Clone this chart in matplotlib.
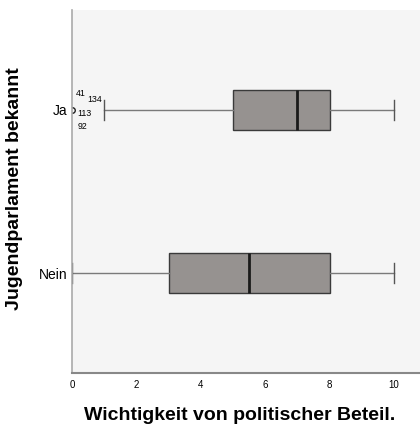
import matplotlib
matplotlib.use("Agg")
import matplotlib.pyplot as plt

groups = ["Nein", "Ja"]
whislo = [0, 1]
q1 = [3, 5]
med = [5.5, 7]
q3 = [8, 8]
whishi = [10, 10]
fliers = [[], [0]]
flier_ids = ["41", "134", "113", "92"]
xticks = [0, 2, 4, 6, 8, 10]

plt.rcParams['font.family'] = ['Liberation Sans', 'DejaVu Sans']

fig = plt.figure(figsize=(4.2, 4.34), dpi=100)
ax = fig.add_axes([72/420, 61/434, 1 - 72/420, 363/434])
ax.set_facecolor('#f5f5f5')

stats = []
for i, g in enumerate(groups):
    stats.append(dict(label=g, whislo=whislo[i], q1=q1[i], med=med[i],
                      q3=q3[i], whishi=whishi[i], fliers=fliers[i]))

ax.bxp(stats, positions=[1, 2], vert=False, widths=0.25, patch_artist=True,
       boxprops=dict(facecolor='#969290', edgecolor='#3a3a3a', linewidth=1),
       medianprops=dict(color='#1a1a1a', linewidth=2),
       whiskerprops=dict(color='#7a7a7a', linewidth=1),
       capprops=dict(color='#555555', linewidth=1),
       capwidths=0.125,
       flierprops=dict(marker='o', markersize=4, markerfacecolor='none',
                       markeredgecolor='#222222', clip_on=True))

# outlier case labels
ax.text(0.12, 2.098, flier_ids[0], fontsize=6.3, ha='left', va='center')
ax.text(0.47, 2.067, flier_ids[1], fontsize=6.3, ha='left', va='center')
ax.text(0.16, 1.98, flier_ids[2], fontsize=6.3, ha='left', va='center')
ax.text(0.18, 1.896, flier_ids[3], fontsize=6.3, ha='left', va='center')

ax.set_xlim(0, 10.81)
ax.set_ylim(0.387, 2.613)
ax.set_xticks(xticks)
ax.set_xticklabels([str(t) for t in xticks], fontsize=7)
ax.set_yticks([1, 2])
ax.set_yticklabels(groups, fontsize=10)
ax.tick_params(axis='both', length=0)
ax.tick_params(axis='x', pad=5)
ax.tick_params(axis='y', pad=3)

for s in ['top', 'right']:
    ax.spines[s].set_visible(False)
ax.spines['left'].set_color('#aaaaaa')
ax.spines['left'].set_linewidth(1.2)
ax.spines['bottom'].set_color('#888888')
ax.spines['bottom'].set_linewidth(1.5)

fig.text(15/420, 1 - 189/434, "Jugendparlament bekannt", rotation=90,
         fontsize=14, fontweight='bold', ha='center', va='center')
fig.text(240/420, 1 - 415/434, "Wichtigkeit von politischer Beteil.",
         fontsize=14, fontweight='bold', ha='center', va='center')

fig.savefig("out.png", dpi=100)
